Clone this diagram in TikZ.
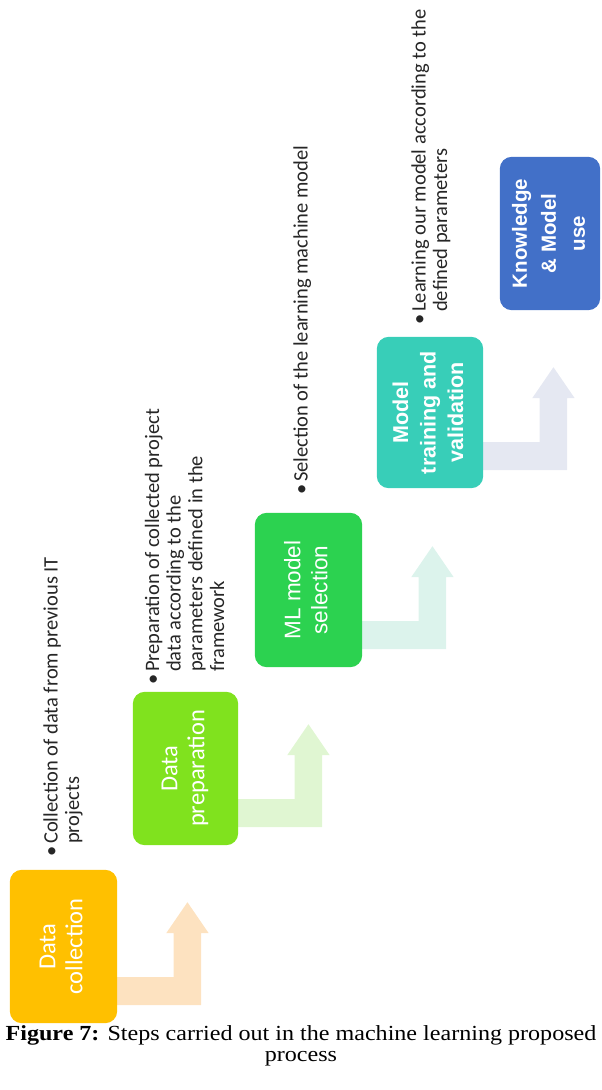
\documentclass[tikz,border=0pt]{standalone}
\usepackage{fontspec}
\usepackage{graphicx}
\setmainfont{Carlito}
\newfontfamily\arialf{Liberation Sans}
\newfontfamily\timesf{Liberation Serif}
\usetikzlibrary{calc}

\definecolor{cA}{RGB}{255,192,0}
\definecolor{cB}{RGB}{128,226,30}
\definecolor{cC}{RGB}{44,210,80}
\definecolor{cD}{RGB}{56,206,184}
\definecolor{cE}{RGB}{66,112,200}
\definecolor{aA}{RGB}{253,226,192}
\definecolor{aB}{RGB}{224,246,210}
\definecolor{aC}{RGB}{220,243,236}
\definecolor{aD}{RGB}{229,232,242}
\definecolor{txt}{RGB}{38,38,38}

\newcommand{\bul}{\makebox[13pt][l]{\makebox[10pt]{•}}}

\begin{document}
\begin{tikzpicture}[x=1pt,y=-1pt,
  stepbox/.style={rectangle, rounded corners=12pt, inner sep=0pt, text=white, draw=none},
  note/.style={rotate=90, anchor=base west, inner sep=0pt, text=txt,
               font=\fontsize{20.5}{21.7}\selectfont},
  captxt/.style={font=\timesf\fontsize{21.5}{21}\selectfont, align=center, inner sep=0pt, text=black}
]
\useasboundingbox (0,0) rectangle (602,1090);

% step boxes (placed first to get anchors)
\path
  node[stepbox, minimum width=107pt, minimum height=153pt] (b1) at (63.5,946.5) {}
  node[stepbox, minimum width=105pt, minimum height=153pt] (b2) at (185.5,768.5) {}
  node[stepbox, minimum width=107pt, minimum height=154pt] (b3) at (308.5,590) {}
  node[stepbox, minimum width=106pt, minimum height=151pt] (b4) at (430,412.5) {}
  node[stepbox, minimum width=100pt, minimum height=153pt] (b5) at (550,233.5) {};

% bent-up arrows from each step
\foreach \b/\c in {b1/aA, b2/aB, b3/aC, b4/aD}{
  \fill[\c] ($(\b.south east)+(-8,-46)$) -- ++(64.5,0) -- ++(0,-44) -- ++(-7.5,0)
     -- ++(21.25,-31) -- ++(21.25,31) -- ++(-7.5,0) -- ++(0,72)
     -- ($(\b.south east)+(-8,-18)$) -- cycle;
}

% box fills on top of the arrow bars
\foreach \b/\c in {b1/cA, b2/cB, b3/cC, b4/cD, b5/cE}{
  \fill[\c, rounded corners=12pt] (\b.south west) rectangle (\b.north east);
}

% box labels
\node[text=white, inner sep=0pt] (t1) at (b1.center)
  {\rotatebox{90}{\fontsize{24.5}{27}\selectfont\begin{tabular}{@{}c@{}}Data\\collection\end{tabular}}};
\node[text=white, inner sep=0pt] (t2) at (b2.center)
  {\rotatebox{90}{\fontsize{24.5}{27}\selectfont\begin{tabular}{@{}c@{}}Data\\preparation\end{tabular}}};
\node[text=white, inner sep=0pt] (t3) at (b3.center)
  {\rotatebox{90}{\arialf\fontsize{22.5}{27}\selectfont\begin{tabular}{@{}c@{}}ML model\\selection\end{tabular}}};
\node[text=white, inner sep=0pt] (t4) at (b4.center)
  {\rotatebox{90}{\arialf\bfseries\fontsize{21.5}{27.5}\selectfont\begin{tabular}{@{}c@{}}Model\\training and\\validation\end{tabular}}};
\node[text=white, inner sep=0pt] (t5) at (b5.center)
  {\rotatebox{90}{\arialf\bfseries\fontsize{20.5}{29}\selectfont\begin{tabular}{@{}c@{}}Knowledge\\\& Model\\use\end{tabular}}};

% bullet notes
\node[note] (n1) at (57.5,857)
  {\begin{tabular}[t]{@{}l@{}l@{}}\bul & Collection of data from previous IT\\ & projects\end{tabular}};
\node[note] (n2) at (159,685)
  {\begin{tabular}[t]{@{}l@{}l@{}}\bul & Preparation of collected project\\ & data according to the\\ & parameters defined in the\\ & framework\end{tabular}};
\node[note] (n3) at (307.5,495)
  {\begin{tabular}[t]{@{}l@{}l@{}}\bul & Selection of the learning machine model\end{tabular}};
\node[note] (n4) at (425.5,325)
  {\begin{tabular}[t]{@{}l@{}l@{}}\bul & Learning our model according to the\\ & defined parameters\end{tabular}};

% caption
\node[captxt] (cap) at (301,1045.5)
  {\scalebox{1.12}[1]{\textbf{Figure 7:} Steps carried out in the machine learning proposed}\\
   \scalebox{1.12}[1]{process}};
\end{tikzpicture}
\end{document}
